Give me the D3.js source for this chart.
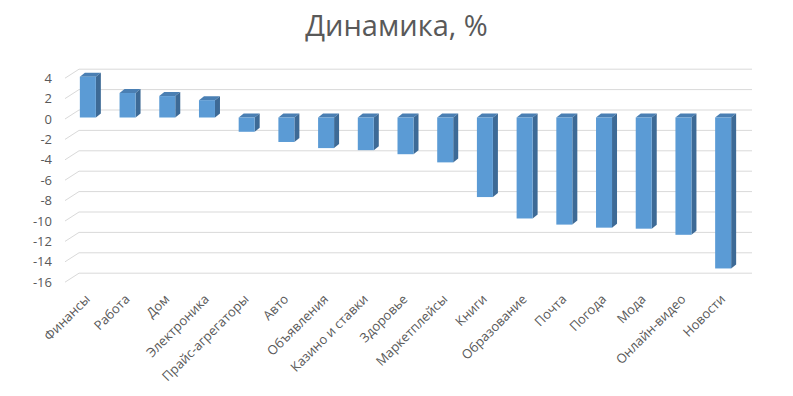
<!DOCTYPE html>
<html>
<head>
<meta charset="utf-8">
<script src="https://cdn.jsdelivr.net/npm/d3@7"></script>
<style>
  body { margin: 0; background: #fff; }
  text { font-family: "Open Sans", "Noto Sans", sans-serif; fill: #595959; }
</style>
</head>
<body>
<div id="chart"></div>
<script>
// data
var categories = ["Финансы", "Работа", "Дом", "Электроника", "Прайс-агрегаторы", "Авто",
  "Объявления", "Казино и ставки", "Здоровье", "Маркетплейсы", "Книги", "Образование",
  "Почта", "Погода", "Мода", "Онлайн-видео", "Новости"];
var values = [4.0, 2.4, 2.1, 1.7, -1.4, -2.4, -3.0, -3.2, -3.6, -4.4, -7.8, -9.9,
  -10.5, -10.8, -10.9, -11.5, -14.8];
var ticks = [4, 2, 0, -2, -4, -6, -8, -10, -12, -14, -16];

var width = 793, height = 396;
var depthX = 5, depthY = -4;      // bar depth
var wallX = 14, wallY = -9;       // side wall depth
var barW = 16;

var svg = d3.select("#chart").append("svg")
  .attr("width", width).attr("height", height);

svg.append("text")
  .attr("x", width / 2).attr("y", 36)
  .attr("text-anchor", "middle")
  .style("font-size", "29px")
  .text("Динамика, %");

var y = d3.scaleLinear().domain([-16, 4]).range([280.7, 76.7]);
var x = d3.scaleBand().domain(categories).range([68, 743]);

var backX0 = 79, backX1 = 752;

/* ---- gridlines: side wall + back wall ---- */
var grid = svg.append("g").attr("class", "grid")
  .attr("stroke", "#d9d9d9").attr("fill", "none");
ticks.forEach(function(t) {
  var yb = y(t) - 7.5;
  grid.append("polyline")
    .attr("points", [[backX0 - wallX, yb - wallY], [backX0, yb], [backX1, yb]].join(" "));
});

/* ---- tick labels ---- */
svg.append("g").selectAll("text")
  .data(ticks).enter().append("text")
  .attr("x", 52)
  .attr("y", function(d) { return y(d) - 7.5 - wallY; })
  .attr("dy", "0.35em")
  .attr("text-anchor", "end")
  .style("font-size", "13px")
  .text(function(d) { return d; });

/* ---- bars ---- */
var bars = svg.append("g").selectAll("g")
  .data(values).enter().append("g");

function bx(d, i) { return x(categories[i]) + (x.bandwidth() - barW) / 2; }

// top
bars.append("path")
  .attr("fill", "#4a7fb3")
  .attr("d", function(d, i) {
    var x0 = bx(d, i), yt = y(Math.max(d, 0));
    return "M" + x0 + "," + yt + "L" + (x0 + barW) + "," + yt +
      "L" + (x0 + barW + depthX) + "," + (yt + depthY) +
      "L" + (x0 + depthX) + "," + (yt + depthY) + "Z";
  });
// side
bars.append("path")
  .attr("fill", "#3d6a96")
  .attr("d", function(d, i) {
    var x0 = bx(d, i) + barW, yt = y(Math.max(d, 0)), yb = y(Math.min(d, 0));
    return "M" + x0 + "," + yt + "L" + (x0 + depthX) + "," + (yt + depthY) +
      "L" + (x0 + depthX) + "," + (yb + depthY) + "L" + x0 + "," + yb + "Z";
  });
// front
bars.append("rect")
  .attr("fill", "#5b9bd5")
  .attr("x", bx)
  .attr("y", function(d) { return y(Math.max(d, 0)); })
  .attr("width", barW)
  .attr("height", function(d) { return Math.abs(y(d) - y(0)); });

/* ---- category labels ---- */
svg.append("g").selectAll("text")
  .data(categories).enter().append("text")
  .attr("text-anchor", "end")
  .style("font-size", "13px")
  .attr("transform", function(d) {
    return "translate(" + (x(d) + x.bandwidth() / 2 + 3) + ",300) rotate(-45)";
  })
  .text(function(d) { return d; });
</script>
</body>
</html>
